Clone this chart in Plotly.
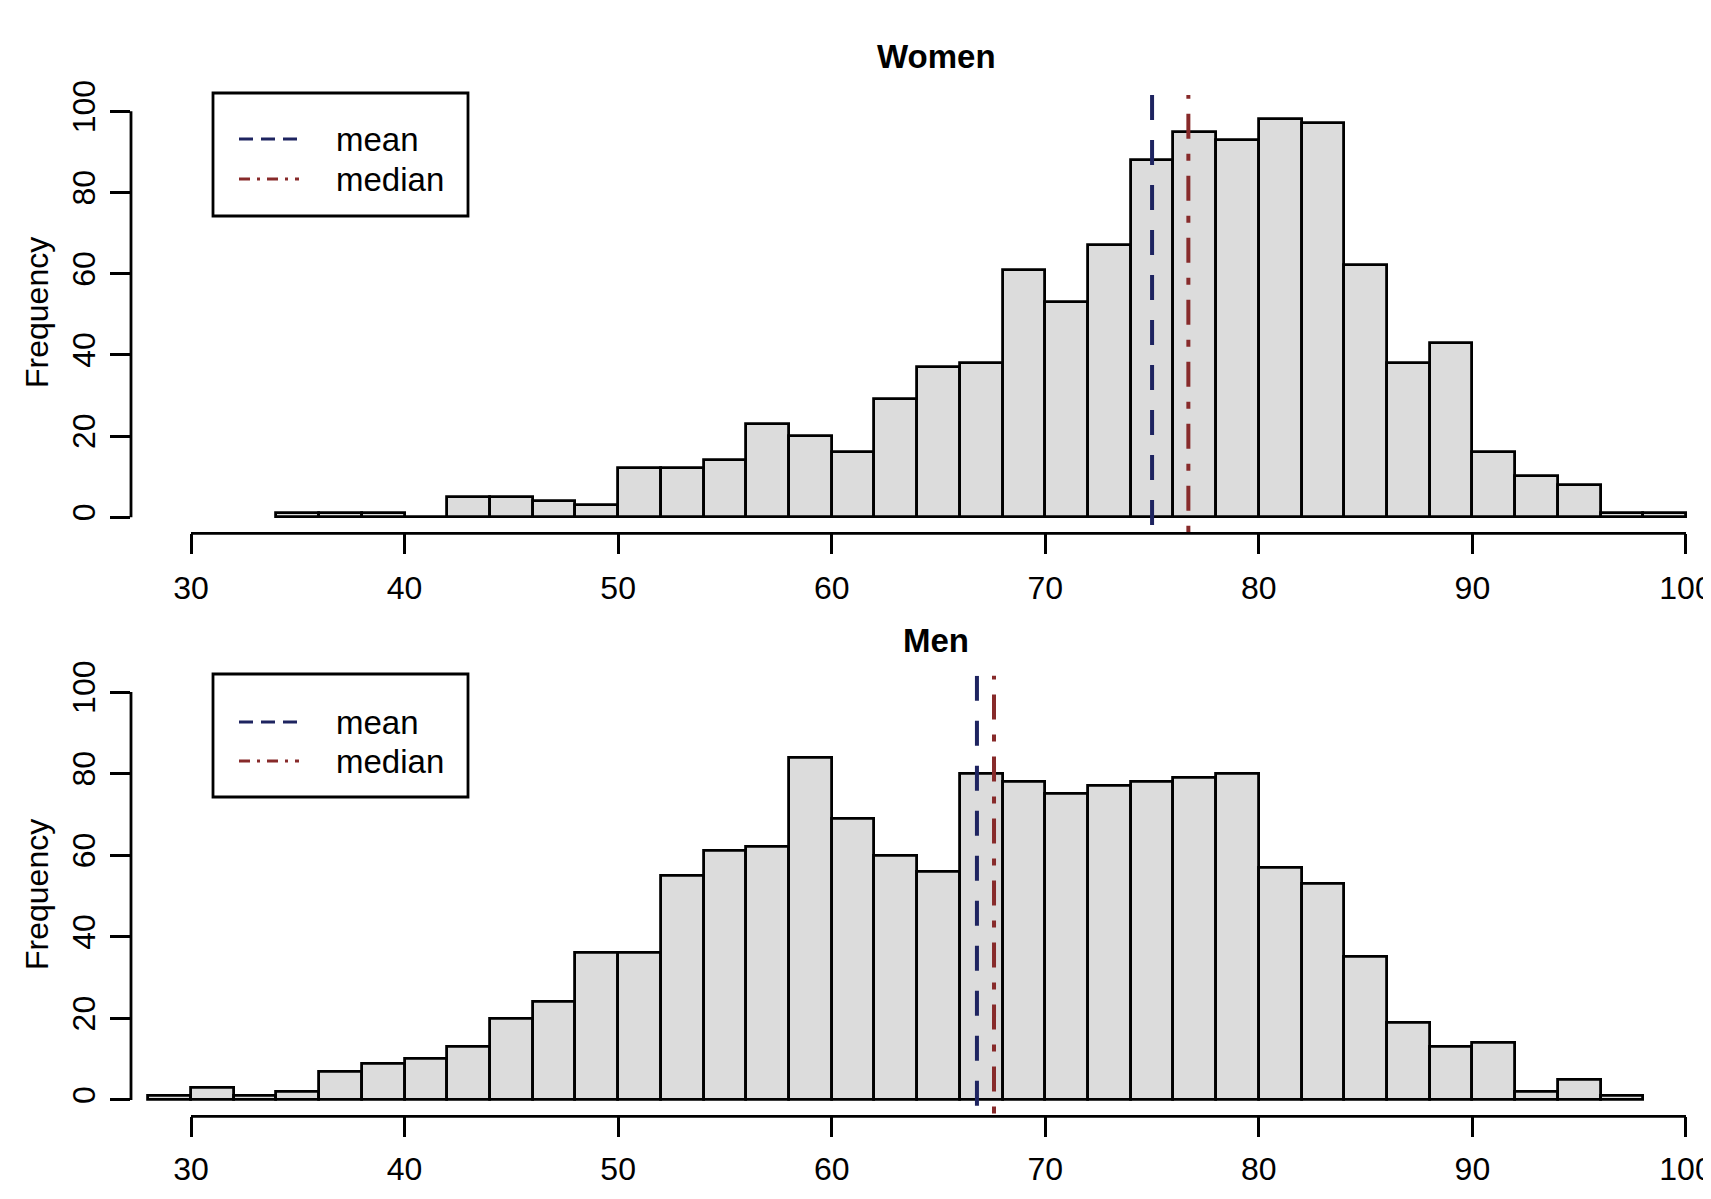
import plotly.graph_objects as go

# ---------------- data ----------------
bin_width = 2
women_bin_starts = list(range(34, 100, 2))
women_counts = [1, 1, 1, 0, 5, 5, 4, 3, 12, 12, 14, 23, 20, 16, 29, 37, 38,
                61, 53, 67, 88, 95, 93, 98, 97, 62, 38, 43, 16, 10, 8, 1, 1]
men_bin_starts = list(range(28, 98, 2))
men_counts = [1, 3, 1, 2, 7, 9, 10, 13, 20, 24, 36, 36, 55, 61, 62, 84, 69,
              60, 56, 80, 78, 75, 77, 78, 79, 80, 57, 53, 35, 19, 13, 14, 2, 5, 1]
women_mean, women_median = 75.0, 76.7
men_mean, men_median = 66.8, 67.6
x_ticks = [30, 40, 50, 60, 70, 80, 90, 100]
y_ticks = [0, 20, 40, 60, 80, 100]
panel_titles = ["Women", "Men"]
legend_labels = ["mean", "median"]

# ---------------- styling ----------------
W, H = 1711, 1199
OFF = 8            # page body margin offset of the figure div
PLOT_LEFT = 131    # page x of plot area left edge
ML = PLOT_LEFT - OFF
FONT = "Liberation Sans, Arial, sans-serif"
BAR_FILL = "#DCDCDC"
MEAN_COL = "#1E2460"
MED_COL = "#872A2A"
YR = [-4, 104]
X_AT_30 = 191.0
PX_PER_UNIT = 21.357
XR = [30 - (X_AT_30 - PLOT_LEFT) / PX_PER_UNIT,
      30 + (W + OFF - X_AT_30) / PX_PER_UNIT]

def px_x(px):
    return (px - OFF - ML) / (W - ML)

def px_y(py):
    return (H - (py - OFF)) / H

fig = go.Figure()

panels = [
    dict(starts=women_bin_starts, counts=women_counts, mean=women_mean,
         median=women_median, xa="x", ya="y", dom=[px_y(533.4), px_y(95.1)],
         title_y=57, legend_top=93, legend_bot=216, item_y=[139, 179],
         freq_y=313),
    dict(starts=men_bin_starts, counts=men_counts, mean=men_mean,
         median=men_median, xa="x2", ya="y2", dom=[px_y(1116.3), px_y(675.7)],
         title_y=640, legend_top=674, legend_bot=797, item_y=[722, 761],
         freq_y=895),
]

annotations = []
shapes = []
for i, p in enumerate(panels):
    centers = [s + bin_width / 2 for s in p["starts"]]
    fig.add_trace(go.Bar(
        x=centers, y=p["counts"], width=bin_width,
        marker=dict(color=BAR_FILL, line=dict(color="black", width=2.8)),
        xaxis=p["xa"], yaxis=p["ya"], showlegend=False, hoverinfo="x+y"))
    fig.add_trace(go.Scatter(
        x=[p["mean"], p["mean"]], y=[YR[1], YR[0]], mode="lines",
        line=dict(color=MEAN_COL, width=4, dash="25px,20px"),
        xaxis=p["xa"], yaxis=p["ya"], showlegend=False, cliponaxis=True))
    fig.add_trace(go.Scatter(
        x=[p["median"], p["median"]], y=[YR[1] + 0.8, YR[0]], mode="lines",
        line=dict(color=MED_COL, width=4, dash="7px,15px,25px,15px"),
        xaxis=p["xa"], yaxis=p["ya"], showlegend=False, cliponaxis=True))

    xref = p["xa"]
    yref = p["ya"]
    # axis lines (R style: from first to last tick)
    shapes.append(dict(type="line", xref=xref, yref=yref + " domain",
                       x0=x_ticks[0], x1=x_ticks[-1], y0=0, y1=0,
                       line=dict(color="black", width=2.8)))
    shapes.append(dict(type="line", xref=xref + " domain", yref=yref,
                       x0=0, x1=0, y0=y_ticks[0], y1=y_ticks[-1],
                       line=dict(color="black", width=2.8)))
    # legend box
    shapes.append(dict(type="rect", xref="paper", yref="paper",
                       x0=px_x(213), x1=px_x(468),
                       y0=px_y(p["legend_bot"]), y1=px_y(p["legend_top"]),
                       line=dict(color="black", width=2.8),
                       fillcolor="white"))
    for lab, yy, col, dash in zip(legend_labels, p["item_y"],
                                  [MEAN_COL, MED_COL],
                                  ["14px,8px", "11px,7px,3px,7px"]):
        shapes.append(dict(type="line", xref="paper", yref="paper",
                           x0=px_x(239), x1=px_x(299),
                           y0=px_y(yy), y1=px_y(yy),
                           line=dict(color=col, width=3, dash=dash)))
        annotations.append(dict(text=lab, xref="paper", yref="paper",
                                x=px_x(334), y=px_y(yy), xanchor="left",
                                yanchor="middle", showarrow=False,
                                font=dict(family=FONT, size=33, color="black")))
    # title
    annotations.append(dict(text="<b>%s</b>" % panel_titles[i], xref="paper",
                            yref="paper", x=px_x(936), y=px_y(p["title_y"]),
                            xanchor="center", yanchor="middle", showarrow=False,
                            font=dict(family=FONT, size=33, color="black")))
    # y axis title
    annotations.append(dict(text="Frequency", xref="paper", yref="paper",
                            x=px_x(37), y=px_y(p["freq_y"]), xanchor="center",
                            yanchor="middle", textangle=-90, showarrow=False,
                            font=dict(family=FONT, size=32, color="black")))

axis_common = dict(showgrid=False, zeroline=False, showline=False,
                   ticks="outside", ticklen=20, tickwidth=2.8,
                   tickcolor="black", automargin=False,
                   tickfont=dict(family=FONT, size=32, color="black"))

fig.update_layout(
    template="none",
    width=W, height=H,
    margin=dict(l=ML, r=0, t=0, b=0, pad=0),
    paper_bgcolor="white", plot_bgcolor="white",
    bargap=0, barmode="overlay",
    xaxis=dict(domain=[0, 1], range=XR, anchor="y", tickvals=x_ticks,
               ticklabeloverflow="allow", ticklabelstandoff=6, **axis_common),
    yaxis=dict(domain=panels[0]["dom"], range=YR, anchor="x",
               tickvals=y_ticks, tickangle=-90, ticklabelstandoff=2,
               **axis_common),
    xaxis2=dict(domain=[0, 1], range=XR, anchor="y2", tickvals=x_ticks,
                ticklabeloverflow="allow", ticklabelstandoff=4, **axis_common),
    yaxis2=dict(domain=panels[1]["dom"], range=YR, anchor="x2",
                tickvals=y_ticks, tickangle=-90, ticklabelstandoff=2,
                **axis_common),
    shapes=shapes, annotations=annotations,
    showlegend=False,
)

fig.write_html("out.html")
